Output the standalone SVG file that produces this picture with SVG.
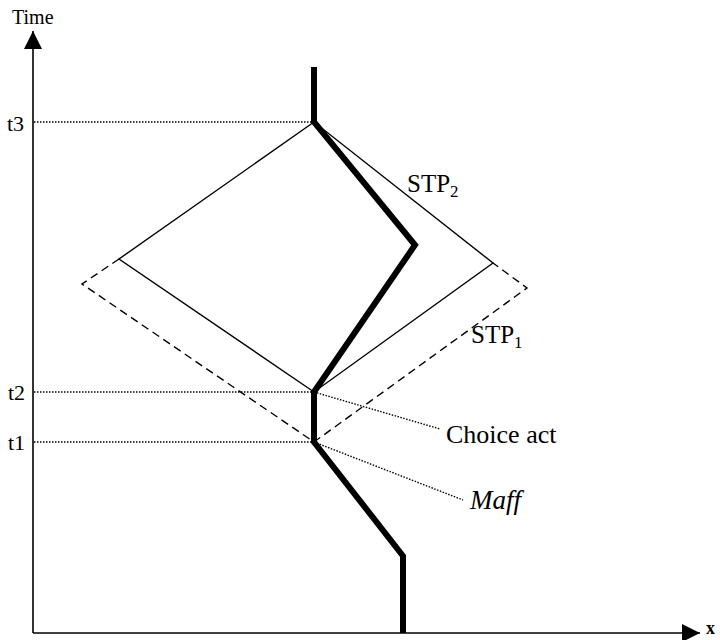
<svg xmlns="http://www.w3.org/2000/svg" width="720" height="640" viewBox="0 0 720 640">
<defs>
<style>
.ax{stroke:#000;stroke-width:1.6;fill:none}
.thin{stroke:#000;stroke-width:1.4;fill:none}
.dash{stroke:#000;stroke-width:1.4;fill:none;stroke-dasharray:8,5}
.dot{stroke:#000;stroke-width:1.4;fill:none;stroke-dasharray:1.5,1.5}
.thick{stroke:#000;stroke-width:6;fill:none;stroke-linejoin:miter}
.lbl{font-family:"Liberation Serif","Times New Roman",serif;fill:#000}
</style>
<marker id="ah" viewBox="0 0 10 10" refX="10" refY="5" markerWidth="18" markerHeight="18" markerUnits="userSpaceOnUse" orient="auto">
<path d="M0,0 L10,5 L0,10 z" fill="#000"/>
</marker>
</defs>
<rect width="720" height="640" fill="#fff"/>
<g id="axes">
<line class="ax" x1="33" y1="633" x2="33" y2="31" marker-end="url(#ah)"/>
<line class="ax" x1="33" y1="633" x2="700" y2="633" marker-end="url(#ah)"/>
<text class="lbl" x="12" y="24" font-size="20">Time</text>
<text class="lbl" x="706" y="634" font-size="18" font-weight="bold">x</text>
</g>
<g id="time-marks">
<line class="dot" x1="34" y1="122" x2="312" y2="122"/>
<line class="dot" x1="34" y1="392" x2="312" y2="392"/>
<line class="dot" x1="34" y1="442" x2="312" y2="442"/>
<text class="lbl" x="7" y="131" font-size="22">t3</text>
<text class="lbl" x="8" y="400" font-size="22">t2</text>
<text class="lbl" x="8" y="450" font-size="22">t1</text>
</g>
<g id="stp1">
<polyline class="dash" points="119,259 82,284 314,442 527,288 493,263"/>
<text class="lbl" x="471" y="343" font-size="25">STP<tspan font-size="17" dy="5">1</tspan></text>
</g>
<g id="stp2">
<polygon class="thin" points="314,122 119,259 314,392 493,263"/>
<text class="lbl" x="407" y="192" font-size="25">STP<tspan font-size="17" dy="5">2</tspan></text>
</g>
<g id="trajectory">
<polyline class="thick" points="314,67 314,122 415,245 314,392 314,442 403,556 403,633"/>
</g>
<g id="connectors">
<line class="dot" x1="314" y1="392" x2="440" y2="429"/>
<line class="dot" x1="314" y1="442" x2="463" y2="500"/>
</g>
<g id="choice-act">
<text class="lbl" x="446" y="443" font-size="26">Choice act</text>
</g>
<g id="maff">
<text class="lbl" x="470" y="509" font-size="27" font-style="italic">Maff</text>
</g>
</svg>
